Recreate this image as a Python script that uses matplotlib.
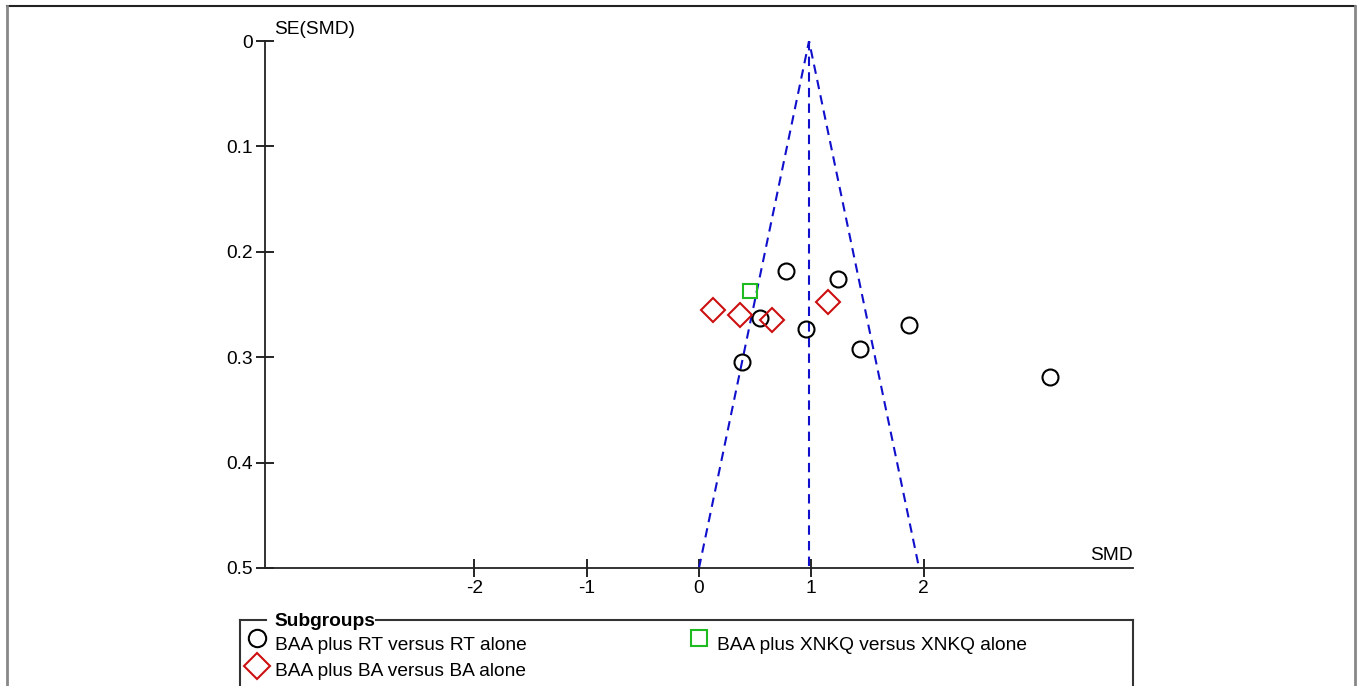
import matplotlib
matplotlib.use('Agg')
import matplotlib.pyplot as plt
from matplotlib.lines import Line2D
import numpy as np

plt.rcParams['font.family'] = ['Liberation Sans', 'DejaVu Sans']

# study estimates
rt_smd = [0.772, 1.235, 0.546, 0.956, 0.380, 1.431, 1.867, 3.126]
rt_se = [0.218, 0.226, 0.263, 0.273, 0.305, 0.2925, 0.269, 0.3185]
ba_smd = [0.128, 0.368, 0.650, 1.152]
ba_se = [0.2555, 0.260, 0.265, 0.248]
xnkq_smd = [0.451]
xnkq_se = [0.2375]
pooled = 0.98
se_max = 0.5

labels = ['BAA plus RT versus RT alone', 'BAA plus BA versus BA alone',
          'BAA plus XNKQ versus XNKQ alone']
xticks = [-2, -1, 0, 1, 2]
yticks = [0, 0.1, 0.2, 0.3, 0.4, 0.5]

W, H = 1363, 686
fs = 13.8
fig = plt.figure(figsize=(W / 100, H / 100), dpi=100)
ax = fig.add_axes([265 / W, 1 - 568 / H, 868 / W, 527 / H])

# funnel
blue = '#1010cc'
dash = (0, (4.5, 3))
ax.plot([pooled - 1.96 * se_max, pooled, pooled + 1.96 * se_max], [se_max, 0, se_max],
        color=blue, ls=dash, lw=1.5)
ax.plot([pooled, pooled], [0, se_max], color=blue, ls=dash, lw=1.5)

ax.plot(rt_smd, rt_se, 'o', ms=11.5, mfc='none', mec='black', mew=1.5)
ax.plot(ba_smd, ba_se, 'D', ms=12, mfc='none', mec='#cc1010', mew=1.5)
ax.plot(xnkq_smd, xnkq_se, 's', ms=10, mfc='none', mec='#20bb20', mew=1.5)

ax.set_xlim(-3.865, 3.865)
ax.set_ylim(0.5, 0)
ax.set_xticks(xticks)
ax.set_xticklabels([str(t) for t in xticks])
ax.set_yticks(yticks)
ax.set_yticklabels(['0', '0.1', '0.2', '0.3', '0.4', '0.5'])
for s in ['top', 'right']:
    ax.spines[s].set_visible(False)
for s in ['left', 'bottom']:
    ax.spines[s].set_linewidth(1.3)
    ax.spines[s].set_color('#222222')
ax.tick_params(direction='inout', length=13, width=1.2, labelsize=fs, pad=2)
ax.text(0.011, 1.0 + 11 / 527, 'SE(SMD)', transform=ax.transAxes, fontsize=fs, va='center', ha='left')
ax.text(1.0, 0.007, 'SMD', transform=ax.transAxes, fontsize=fs, va='bottom', ha='right')

# legend box (open at the bottom)
def fx(p):
    return p / W
def fy(p):
    return 1 - p / H
lc = '#333333'
fig.add_artist(Line2D([fx(240), fx(240)], [fy(620), 0], color=lc, lw=1.5))
fig.add_artist(Line2D([fx(1133), fx(1133)], [fy(620), 0], color=lc, lw=1.5))
fig.add_artist(Line2D([fx(240), fx(266)], [fy(620), fy(620)], color=lc, lw=1.5))
fig.add_artist(Line2D([fx(376), fx(1133)], [fy(620), fy(620)], color=lc, lw=1.5))
fig.text(fx(274), fy(621), 'Subgroups', fontsize=fs, fontweight='bold', va='center')

entries = [('o', 'none', 'black', 12.5, 257, 638, 275, 645),
           ('D', 'none', '#cc1010', 13, 257, 666, 275, 671),
           ('s', 'none', '#20bb20', 11, 699, 638, 717, 645)]
for (m, fc, ec, ms, mx, my, tx, ty), lab in zip(entries, labels):
    fig.add_artist(Line2D([fx(mx)], [fy(my)], marker=m, ms=ms, mfc=fc, mec=ec, mew=1.5))
    fig.text(fx(tx), fy(ty), lab, fontsize=fs, va='center')

# outer frame
fig.add_artist(Line2D([fx(7), fx(1355)], [fy(6), fy(6)], color='#222222', lw=1.5))
fig.add_artist(Line2D([fx(7), fx(7)], [fy(6), 0], color='#888888', lw=2))
fig.add_artist(Line2D([fx(1355), fx(1355)], [fy(6), 0], color='#888888', lw=2))

fig.savefig('out.png', dpi=100)
